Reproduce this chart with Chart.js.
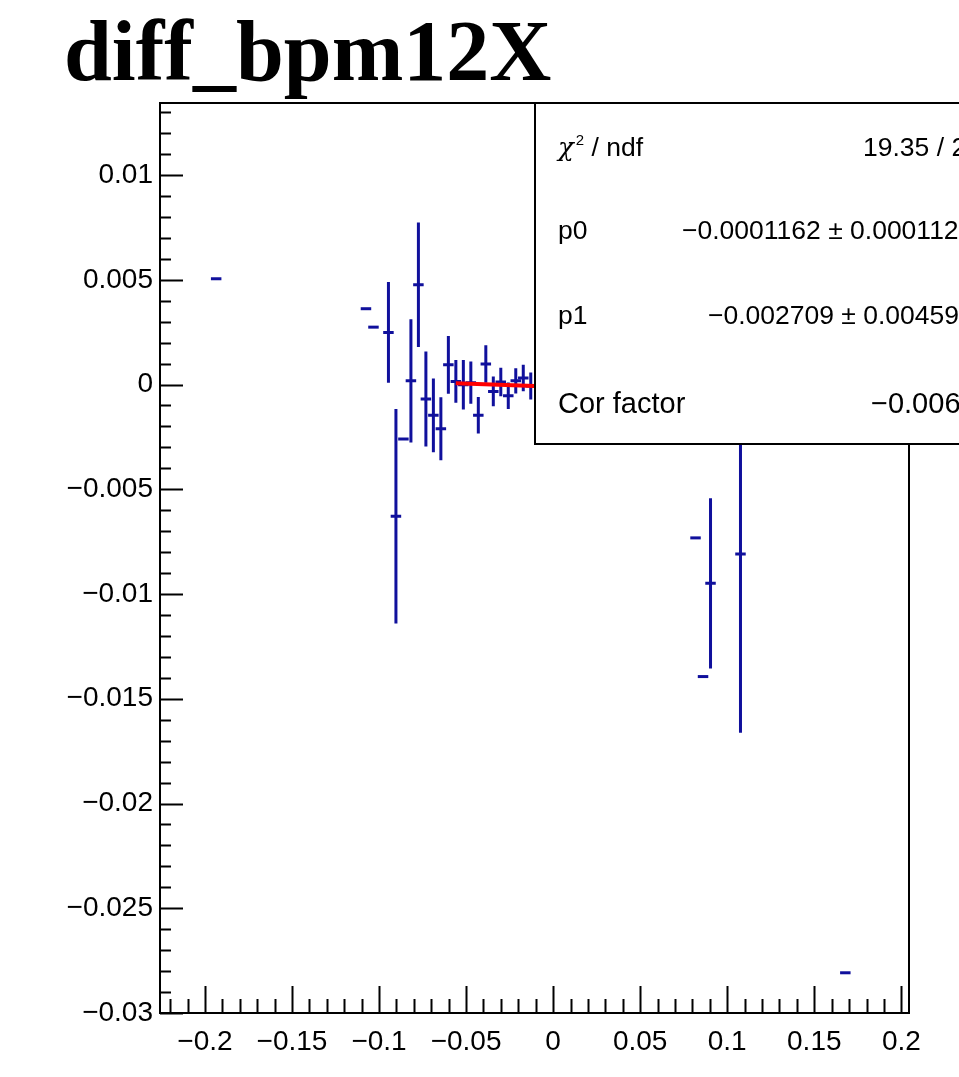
<!DOCTYPE html>
<html>
<head>
<meta charset="utf-8">
<script src="https://cdn.jsdelivr.net/npm/chart.js@4.4.0/dist/chart.umd.min.js"></script>
<style>
html,body{margin:0;padding:0;background:#fff;overflow:hidden}
canvas{display:block}
</style>
</head>
<body>
<canvas id="c" width="959" height="1077"></canvas>
<script>
const histTitle = 'diff_bpm12X';
const binWidth = 0.0043;
// bin centres, profile means and errors
const binX = [-0.19354, -0.10750, -0.10319, -0.09459, -0.09029, -0.08599, -0.08168, -0.07738,
  -0.07308, -0.06878, -0.06448, -0.06017, -0.05587, -0.05157, -0.04727, -0.04297, -0.03866,
  -0.03436, -0.03006, -0.02576, -0.02146, -0.01715, -0.01285, 0.08179, 0.08610, 0.09040,
  0.10761, 0.16783];
const binY = [0.00505, 0.00362, 0.00274, 0.00249, -0.00629, -0.00260, 0.00018, 0.00476,
  -0.00069, -0.00147, -0.00211, 0.00094, 0.00015, -0.00001, 0.00009, -0.00147, 0.00098,
  -0.00033, 0.00012, -0.00053, 0.00018, 0.00031, -0.00007, -0.00732, -0.01394, -0.00949,
  -0.00809, -0.02808];
const binErr = [0, 0, 0, 0.00233, 0.00505, 0, 0.00287, 0.00290,
  0.00220, 0.00169, 0.00143, 0.00131, 0.00095, 0.00111, 0.00094, 0.00080, 0.00082,
  0.00064, 0.00061, 0.00056, 0.00053, 0.00056, 0.00057, 0, 0, 0.00399,
  0.00846, 0];
const fitX = [-0.0559, 0.0550];
const fitY = [0.00006, -0.00026];
const xTickLabels = [-0.2, -0.15, -0.1, -0.05, 0, 0.05, 0.1, 0.15, 0.2];
const yTickLabels = [0.01, 0.005, 0, -0.005, -0.01, -0.015, -0.02, -0.025, -0.03];
const statLabels = ['χ2 / ndf', 'p0', 'p1', 'Cor factor'];
const statValues = ['19.35 / 2', '\u22120.0001162 \u00b1 0.000112', '\u22120.002709 \u00b1 0.00459', '\u22120.006'];

const minus = v => (v === 0 ? '0' : String(v).replace('-', '\u2212'));

const rootStyle = {
  id: 'rootStyle',
  beforeDatasetsDraw(chart) {
    const { ctx, chartArea: a, scales: { x, y } } = chart;
    ctx.save();
    ctx.beginPath();
    ctx.rect(a.left, a.top, a.right - a.left, a.bottom - a.top);
    ctx.clip();
    ctx.strokeStyle = '#10109c';
    ctx.lineWidth = 3;
    ctx.lineCap = 'square';
    binX.forEach((bx, i) => {
      const px = x.getPixelForValue(bx);
      const py = y.getPixelForValue(binY[i]);
      ctx.beginPath();
      ctx.moveTo(x.getPixelForValue(bx - binWidth / 2), py);
      ctx.lineTo(x.getPixelForValue(bx + binWidth / 2), py);
      if (binErr[i] > 0) {
        ctx.moveTo(px, y.getPixelForValue(binY[i] + binErr[i]));
        ctx.lineTo(px, y.getPixelForValue(binY[i] - binErr[i]));
      }
      ctx.stroke();
    });
    ctx.restore();
  },
  afterDraw(chart) {
    const { ctx, chartArea: a, scales: { x, y } } = chart;
    ctx.save();
    ctx.strokeStyle = '#000';
    ctx.lineWidth = 2;
    // inward ticks, ROOT style
    ctx.beginPath();
    for (let i = -22; i <= 20; i++) {
      const v = i / 100;
      const px = Math.round(x.getPixelForValue(v)) + 0.5;
      const len = i % 5 === 0 ? 27 : 14;
      ctx.moveTo(px, a.bottom);
      ctx.lineTo(px, a.bottom - len);
    }
    for (let i = -30; i <= 13; i++) {
      const v = i / 1000;
      const py = Math.round(y.getPixelForValue(v)) + 0.5;
      const len = i % 5 === 0 ? 23 : 11;
      ctx.moveTo(a.left, py);
      ctx.lineTo(a.left + len, py);
    }
    ctx.stroke();
    ctx.strokeRect(a.left, a.top, a.right - a.left, a.bottom - a.top);

    // stats box
    ctx.fillStyle = '#fff';
    ctx.fillRect(535, a.top, 500, 341);
    ctx.strokeRect(535, a.top, 500, 341);
    ctx.fillStyle = '#000';
    ctx.textBaseline = 'alphabetic';
    const rows = [155.5, 239, 323.5, 413];
    const valX = [863, 682, 708, 871];
    statLabels.forEach((lab, i) => {
      const size = i === 3 ? 29 : 26.5;
      ctx.font = size + 'px "Liberation Sans"';
      if (i === 0) {
        ctx.font = 'italic 26px "DejaVu Serif"';
        ctx.fillText('χ', 558, rows[i]);
        let w = ctx.measureText('χ').width;
        ctx.font = '15px "Liberation Sans"';
        ctx.fillText('2', 558 + w + 2, rows[i] - 11);
        w += ctx.measureText('2').width + 2;
        ctx.font = '26.5px "Liberation Sans"';
        ctx.fillText(' / ndf', 558 + w, rows[i]);
      } else {
        ctx.fillText(lab, 558, rows[i]);
      }
      ctx.font = size + 'px "Liberation Sans"';
      ctx.fillText(statValues[i], valX[i], rows[i]);
    });

    // title
    ctx.font = 'bold 86px "Liberation Serif"';
    ctx.fillText(histTitle, 64, 80);
    ctx.restore();
  }
};

Chart.defaults.font.family = '"Liberation Sans", Arial, sans-serif';

new Chart(document.getElementById('c'), {
  type: 'scatter',
  data: {
    datasets: [{
      data: fitX.map((v, i) => ({ x: v, y: fitY[i] })),
      showLine: true,
      borderColor: '#ff0000',
      borderWidth: 4,
      pointRadius: 0
    }]
  },
  options: {
    responsive: false,
    animation: false,
    devicePixelRatio: 1,
    layout: { padding: { top: 103, right: 50, left: 0, bottom: 0 } },
    plugins: { legend: { display: false }, tooltip: { enabled: false } },
    scales: {
      x: {
        type: 'linear',
        min: -0.2258,
        max: 0.2044,
        afterBuildTicks: s => { s.ticks = xTickLabels.map(v => ({ value: v })); },
        afterFit: s => { s.height = 64; },
        grid: { display: false, drawTicks: false },
        border: { display: false },
        ticks: {
          autoSkip: false, maxRotation: 0, padding: 12,
          color: '#000', font: { size: 28 },
          callback: v => minus(v)
        }
      },
      y: {
        min: -0.03,
        max: 0.01344,
        afterBuildTicks: s => { s.ticks = yTickLabels.map(v => ({ value: v })); },
        afterFit: s => { s.width = 160; },
        grid: { display: false, drawTicks: false },
        border: { display: false },
        ticks: {
          autoSkip: false, padding: 7,
          color: '#000', font: { size: 28 },
          callback: v => minus(v)
        }
      }
    }
  },
  plugins: [rootStyle]
});
</script>
</body>
</html>
